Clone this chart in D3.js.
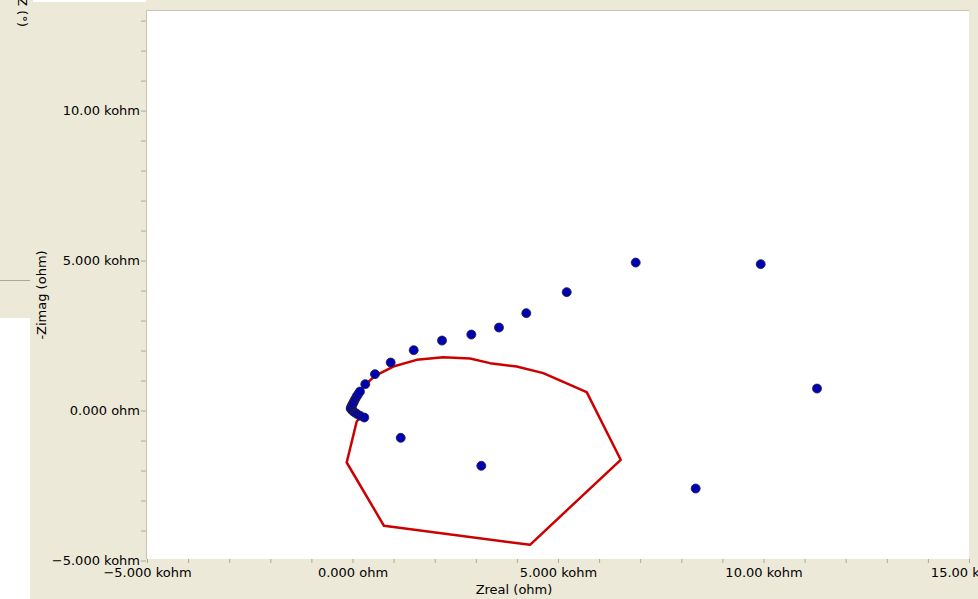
<!DOCTYPE html>
<meta charset="utf-8">
<head>
    <style>
        body {margin: 0; background: #ECE9D8;}
        text {font-family: "DejaVu Sans", sans-serif; font-size: 13px; fill: black;}
        .tick line {stroke: #ACA899;}
        .domain {display: none;}
        .fit {fill: none; stroke: #CC0000; stroke-width: 2.5px; stroke-linejoin: round;}
        .pt {fill: #0000B0; stroke: #222244; stroke-width: 0.8px;}
    </style>
    <script src="https://d3js.org/d3.v7.min.js"></script>
</head>
<body>
<script>

    // measured data (ohm), high frequency -> low frequency
    var zreal = [287, 180, 102, 40, 5, -30, -44, -25, -12, 10, 36, 70, 102, 140, 182, 311, 547, 929,
                 1489, 2178, 2891, 3564, 4229, 5212, 6891, 9932, 11302, 8350, 3134, 1173];
    var zimag = [-233, -170, -110, -50, -10, 40, 80, 130, 167, 230, 300, 390, 467, 550, 633, 880, 1213, 1600,
                 2013, 2333, 2533, 2767, 3247, 3947, 4933, 4880, 733, -2600, -1843, -910];

    // fitted curve
    var fitReal = [224, -44, 5, 141, 263, 547, 993, 1562, 2209, 2859, 3345, 3995, 4642, 5698,
                   6526, 4319, 766, -141, 102, 224];
    var fitImag = [-160, 80, 247, 580, 800, 1157, 1467, 1690, 1780, 1733, 1580, 1467, 1247, 613,
                   -1643, -4477, -3843, -1733, -367, -160];

    var xTicks = d3.range(-5000, 15001, 1000),
        yTicks = d3.range(-5000, 13001, 1000);

    var plot = {left: 147, right: 969, top: 11, bottom: 559};

    var x = d3.scaleLinear()
        .domain([-5000, 15000])
        .range([plot.left, plot.right]);

    var y = d3.scaleLinear()
        .domain([-4950, 13320])
        .range([plot.bottom, plot.top]);

    function fmt(v) {
        if (v % 5000 != 0) return "";
        if (v == 0) return "0.000 ohm";
        return d3.format(".4r")(v / 1000) + " kohm";
    }

    var svg = d3.select("body").append("svg")
        .attr("width", 978)
        .attr("height", 599)

    svg.append("rect").attr("width", 978).attr("height", 599).attr("fill", "#ECE9D8")

    // bits of the windows behind
    svg.append("rect").attr("x", 0).attr("y", 318).attr("width", 30).attr("height", 281).attr("fill", "white")
    svg.append("rect").attr("x", 33).attr("y", 0).attr("width", 113).attr("height", 2).attr("fill", "white")
    svg.append("line").attr("x1", 0).attr("x2", 30).attr("y1", 280.5).attr("y2", 280.5)
        .attr("stroke", "#ACA899")
    svg.append("text")
        .attr("transform", "translate(18,27) rotate(90)")
        .attr("text-anchor", "end")
        .text("Z (°)")

    // plot area
    svg.append("rect")
        .attr("x", plot.left).attr("y", plot.top)
        .attr("width", plot.right - plot.left).attr("height", plot.bottom - plot.top)
        .attr("fill", "white")
    svg.append("path")
        .attr("d", "M" + (plot.left - 0.5) + "," + plot.bottom + "V" + (plot.top - 0.5) + "H" + plot.right)
        .attr("fill", "none").attr("stroke", "#C8C4B0")

    svg.append("g")
        .attr("transform", "translate(" + (plot.left - 1) + ",0)")
        .call(d3.axisLeft(y).tickValues(yTicks).tickSize(5).tickPadding(1).tickFormat(fmt))
        .call(g => g.selectAll("text").style("font-size", "13px").style("font-family", "DejaVu Sans"))

    svg.append("g")
        .attr("transform", "translate(0," + plot.bottom + ")")
        .call(d3.axisBottom(x).tickValues(xTicks).tickSize(4).tickPadding(5).tickFormat(fmt))
        .call(g => g.selectAll("text").style("font-size", "13px").style("font-family", "DejaVu Sans"))

    svg.append("text")
        .attr("x", 514).attr("y", 594)
        .attr("text-anchor", "middle")
        .text("Zreal (ohm)")

    svg.append("text")
        .attr("transform", "translate(46,295) rotate(-90)")
        .attr("text-anchor", "middle")
        .text("-Zimag (ohm)")

    // fit line
    var line = d3.line()
        .x(function(d, i) {return x(fitReal[i])})
        .y(function(d, i) {return y(fitImag[i])});

    svg.append("path")
        .datum(fitReal)
        .attr("class", "fit")
        .attr("d", line)

    svg.append("g").selectAll("circle")
        .data(zreal)
      .enter().append("circle")
        .attr("class", "pt")
        .attr("cx", function(d) {return x(d)})
        .attr("cy", function(d, i) {return y(zimag[i])})
        .attr("r", 4.5)

</script>
</body>
